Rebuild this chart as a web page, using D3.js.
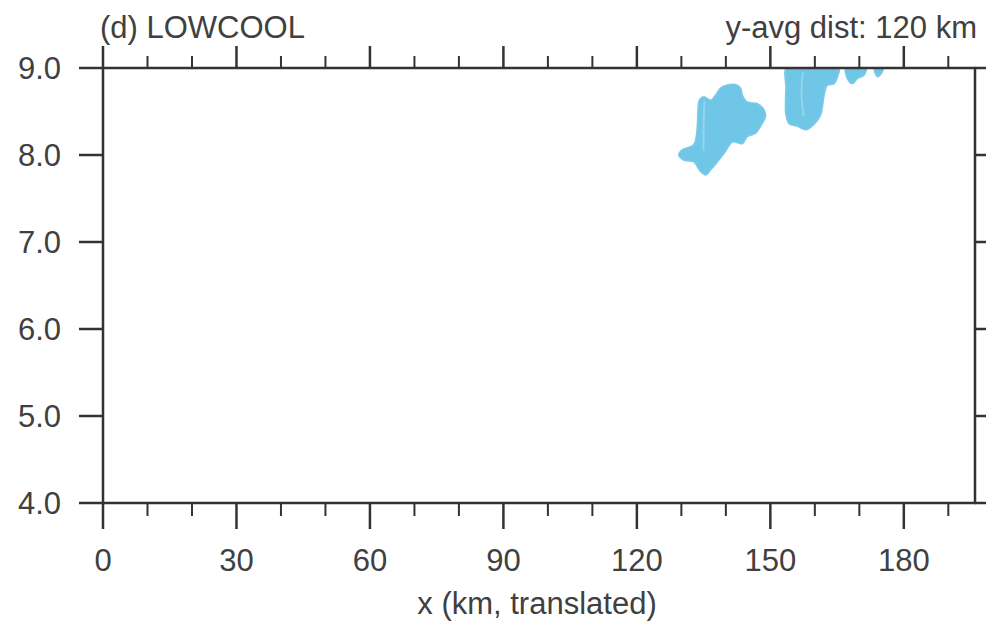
<!DOCTYPE html>
<html><head><meta charset="utf-8">
<script src="https://cdn.jsdelivr.net/npm/d3@7"></script>
<style>
html,body{margin:0;padding:0;background:#fff;}
svg{display:block;}
text{font-family:"Liberation Sans",Arial,Helvetica,sans-serif;fill:#404040;}
</style></head>
<body><svg id="chart" width="986" height="621"></svg>
<script>
// ---- data ----
const title = "(d) LOWCOOL";
const subtitle = "y-avg dist: 120 km";
const xLabel = "x (km, translated)";
const xDomain = [0, 196];
const zDomain = [4, 9];
const xMajorTicks = [0, 30, 60, 90, 120, 150, 180];
const xMinorTicks = [10, 20, 40, 50, 70, 80, 100, 110, 130, 140, 160, 170, 190];
const zTicks = [4, 5, 6, 7, 8, 9];
// contour-filled regions, [x km, z km]
const region1 = [[129.4,8.0],[130.2,8.06],[132.8,8.12],[133.9,8.61],[134.3,8.65],[135.1,8.67],[136.6,8.63],[137.7,8.69],[138.8,8.77],[139.9,8.80],[142.2,8.81],[143.3,8.77],[143.7,8.69],[144.8,8.61],[147.1,8.59],[148.6,8.52],[148.9,8.44],[147.8,8.33],[146.7,8.25],[144.8,8.21],[143.7,8.13],[141.5,8.15],[139.9,8.04],[138.1,7.92],[136.6,7.83],[135.5,7.77],[134.3,7.81],[132.8,7.92],[130.6,7.94]];
const region2 = [[153.8,9.02],[153.5,8.77],[153.5,8.46],[154.2,8.36],[156.1,8.33],[158.0,8.29],[159.8,8.35],[161.3,8.46],[162.1,8.69],[162.8,8.80],[164.3,8.82],[165.1,8.90],[165.4,9.02]];
const region3 = [[167.0,9.02],[167.3,8.88],[168.4,8.82],[169.6,8.88],[171.1,8.92],[171.5,9.02]];
const region4 = [[173.3,9.02],[174.1,8.90],[175.2,8.96],[175.3,9.02]];
const regions = [region1, region2, region3, region4];
// faint interior contour lines
const innerLine1 = [[135.2,8.62],[135.0,8.35],[135.0,8.05]];
const innerLine2 = [[157.3,8.95],[157.0,8.70],[157.5,8.45]];

// ---- layout ----
const svg = d3.select("#chart");
const L = 103, R = 975, T = 68, B = 503;
const x = d3.scaleLinear().domain(xDomain).range([L, R]);
const z = d3.scaleLinear().domain(zDomain).range([B, T]);
const ink = "#333";
const fs = 31;

svg.append("defs").append("clipPath").attr("id","plotclip")
  .append("rect").attr("x",L).attr("y",T).attr("width",R-L).attr("height",B-T);

const gFill = svg.append("g").attr("clip-path","url(#plotclip)");
const area = d3.line().x(d=>x(d[0])).y(d=>z(d[1])).curve(d3.curveCatmullRomClosed.alpha(0.5));
gFill.selectAll("path.r").data(regions).join("path").attr("class","r")
  .attr("d", area).attr("fill","#6fc6e6").attr("stroke","#7ccbe8").attr("stroke-width",1.5);
const ln = d3.line().x(d=>x(d[0])).y(d=>z(d[1])).curve(d3.curveCatmullRom);
gFill.selectAll("path.in").data([innerLine1, innerLine2]).join("path").attr("class","in")
  .attr("d", ln).attr("fill","none").attr("stroke","#93d5ee").attr("stroke-width",2);

// ticks
function ticks(vals, orient, len, w){
  const g = svg.append("g");
  const horiz = orient==="b"||orient==="t";
  g.selectAll("line").data(vals).join("line")
    .attr("x1", d => horiz ? x(d) : (orient==="l" ? L : R))
    .attr("x2", d => horiz ? x(d) : (orient==="l" ? L-len : R+len))
    .attr("y1", d => !horiz ? z(d) : (orient==="b" ? B : T))
    .attr("y2", d => !horiz ? z(d) : (orient==="b" ? B+len : T-len))
    .attr("stroke", ink).attr("stroke-width", w);
}
ticks(xMajorTicks, "b", 26, 2.5);
ticks(xMinorTicks, "b", 13, 2);
ticks(xMajorTicks, "t", 22, 2.5);
ticks(xMinorTicks, "t", 12, 2);
ticks(zTicks, "l", 24, 2.5);
ticks(zTicks, "r", 24, 2.5);

// frame
svg.append("rect").attr("x",L).attr("y",T).attr("width",R-L).attr("height",B-T)
  .attr("fill","none").attr("stroke",ink).attr("stroke-width",2.5);

// labels
svg.append("g").selectAll("text").data(xMajorTicks).join("text")
  .attr("x", d=>x(d)).attr("y", 571).attr("text-anchor","middle")
  .attr("font-size",fs).text(d=>d);
svg.append("g").selectAll("text").data(zTicks).join("text")
  .attr("x", 61).attr("y", d=>z(d)+11).attr("text-anchor","end")
  .attr("font-size",fs).text(d=>d3.format(".1f")(d));
svg.append("text").attr("x",(L+R)/2 - 2).attr("y",614).attr("text-anchor","middle")
  .attr("font-size",fs).text(xLabel);
svg.append("text").attr("x",100).attr("y",38).attr("font-size",fs).text(title);
svg.append("text").attr("x",977).attr("y",38).attr("text-anchor","end").attr("font-size",fs).text(subtitle);
</script></body></html>
